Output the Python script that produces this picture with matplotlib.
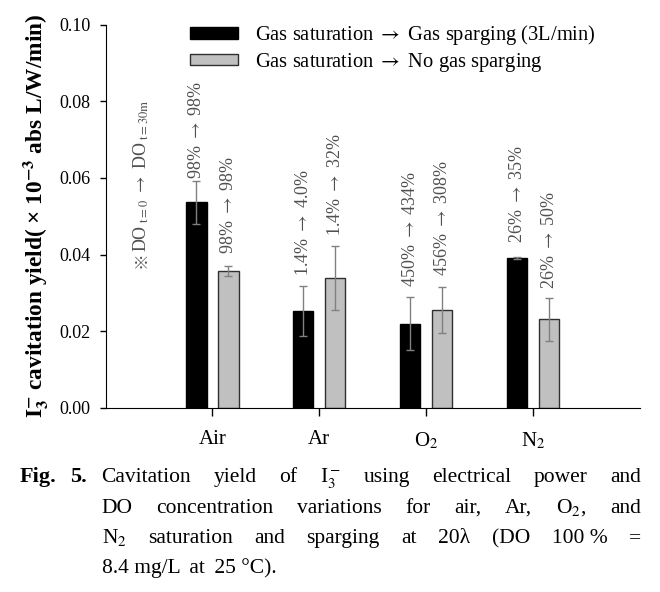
import numpy as np
import matplotlib
matplotlib.use('Agg')
import matplotlib.pyplot as plt
from matplotlib.patches import Patch

plt.rcParams['font.family'] = ['Liberation Serif', 'DejaVu Sans']
plt.rcParams['mathtext.fontset'] = 'stix'

# values
gases = ['Air', 'Ar', 'O$_2$', 'N$_2$']
sparging = [0.0536, 0.0253, 0.0220, 0.0391]
sparging_err = [0.0055, 0.0066, 0.0069, 0.0002]
no_sparging = [0.0357, 0.0339, 0.0256, 0.0231]
no_sparging_err = [0.0014, 0.0084, 0.0060, 0.0057]
do_sparging = ['98%', '1.4%', '450%', '26%'], ['98%', '4.0%', '434%', '35%']
do_no_sparging = ['98%', '1.4%', '456%', '26%'], ['98%', '32%', '308%', '50%']
legend_labels = ['Gas saturation $\\rightarrow$ Gas sparging (3L/min)',
                 'Gas saturation $\\rightarrow$ No gas sparging']

W, H = 660, 592
fig = plt.figure(figsize=(W / 100, H / 100), dpi=100)
ax = fig.add_axes([105.5 / W, 1 - 408 / H, (640 - 105.5) / W, (408 - 24.5) / H])

x = np.arange(len(gases))
off, bw = 0.15, 0.19
ekw = dict(ecolor='#808080', elinewidth=1, capsize=3, capthick=1)
ax.bar(x - off, sparging, bw, color='black', edgecolor='black',
       yerr=sparging_err, error_kw=ekw, zorder=2)
ax.bar(x + off, no_sparging, bw, color='#c0c0c0', edgecolor='#303030',
       linewidth=1, yerr=no_sparging_err, error_kw=ekw, zorder=2)

# DO change labels above bars
pad_black = [2, 7, 7, 10]
pad_gray = [8.5, 7, 8, 6]
tcol = '#505050'
for i in range(len(gases)):
    lab_b = f'{do_sparging[0][i]} $\\rightarrow$ {do_sparging[1][i]}'
    lab_g = f'{do_no_sparging[0][i]} $\\rightarrow$ {do_no_sparging[1][i]}'
    ax.annotate(lab_b, (x[i] - off, sparging[i] + sparging_err[i]),
                xytext=(0, pad_black[i]), textcoords='offset points',
                rotation=90, ha='center', va='bottom', fontsize=13, color=tcol)
    ax.annotate(lab_g, (x[i] + off, no_sparging[i] + no_sparging_err[i]),
                xytext=(0, pad_gray[i]), textcoords='offset points',
                rotation=90, ha='center', va='bottom', fontsize=13, color=tcol)

ax.text(-0.665, 0.0364, '※', rotation=90, ha='center', va='bottom',
        fontsize=12, color=tcol, family=['Noto Sans CJK JP'])
ax.text(-0.665, 0.0408, r'DO$_{\ \mathrm{t=0}}$ $\rightarrow$ DO$_{\ \mathrm{t=30m}}$',
        rotation=90, ha='center', va='bottom', fontsize=13, color=tcol)

ax.set_xlim(-1, 4)
ax.set_ylim(0, 0.10)
ax.set_xticks(x)
ax.set_xticklabels(gases, fontsize=15)
ax.set_yticks(np.arange(0, 0.101, 0.02))
ax.set_yticklabels([f'{v:.2f}' for v in np.arange(0, 0.101, 0.02)], fontsize=13)
ax.tick_params(axis='y', length=4, width=1, pad=7)
ax.tick_params(axis='x', length=6, width=1, pad=10)
for s in ['top', 'right']:
    ax.spines[s].set_visible(False)
ax.set_ylabel(r'I$_\mathbf{3}^{\mathbf{-}}$ cavitation yield( × 10$^{\mathbf{-3}}$ abs L/W/min)',
              fontsize=16.8, fontweight='bold', labelpad=6)

handles = [Patch(facecolor='black', edgecolor='black'),
           Patch(facecolor='#c0c0c0', edgecolor='#303030')]
fig.legend(handles, legend_labels, loc='upper left',
           bbox_to_anchor=(190 / W, 1 - 23 / H), frameon=False, fontsize=14.8,
           handlelength=2.35, handleheight=0.5, handletextpad=0.82,
           labelspacing=0.18, borderpad=0, borderaxespad=0)

# caption, justified like the journal text
fig.text(20 / W, 1 - 482 / H, 'Fig.', fontsize=16, fontweight='bold')
fig.text(70 / W, 1 - 482 / H, '5.', fontsize=16, fontweight='bold')
cap_lines = [
    ['Cavitation', 'yield', 'of', 'I$_3^-$', 'using', 'electrical', 'power', 'and'],
    ['DO', 'concentration', 'variations', 'for', 'air,', 'Ar,', 'O$_2$,', 'and'],
    ['N$_2$', 'saturation', 'and', 'sparging', 'at', '20λ', '(DO', '100 %', '='],
    ['8.4 mg/L', ' at', ' 25 °C).'],
]
baselines = [482, 513, 543, 573]
renderer = fig.canvas.get_renderer()
for li, words in enumerate(cap_lines):
    texts = [fig.text(0, 1 - baselines[li] / H, w, fontsize=15.5, va='baseline')
             for w in words]
    widths = [t.get_window_extent(renderer).width for t in texts]
    if li < 3:
        gap = (641 - 101.5 - sum(widths)) / (len(words) - 1)
    else:
        gap = 4
    xp = 101.5
    for t, w in zip(texts, widths):
        t.set_x(xp / W)
        xp += w + gap

fig.savefig('out.png', dpi=100)
